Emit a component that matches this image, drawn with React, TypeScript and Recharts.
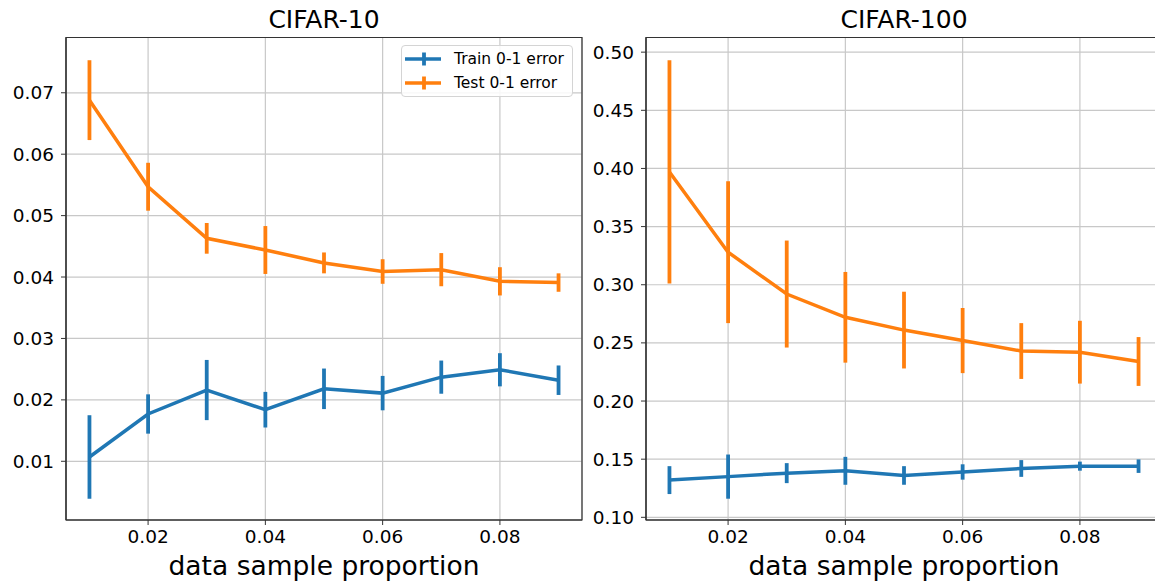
import {
  LineChart,
  Line,
  XAxis,
  YAxis,
  CartesianGrid,
  ErrorBar,
  ReferenceArea,
} from 'recharts';

const proportions = [0.01, 0.02, 0.03, 0.04, 0.05, 0.06, 0.07, 0.08, 0.09];
const xTicks = [0.02, 0.04, 0.06, 0.08];

// CIFAR-10
const c10Train = [0.0107, 0.0177, 0.0216, 0.0184, 0.0218, 0.0211, 0.0237, 0.0249, 0.0232];
const c10TrainErr = [0.0068, 0.0032, 0.0049, 0.0029, 0.0033, 0.0028, 0.0027, 0.0027, 0.0024];
const c10Test = [0.0688, 0.0547, 0.0463, 0.0444, 0.0423, 0.0409, 0.0412, 0.0393, 0.0391];
const c10TestErr = [0.0065, 0.0039, 0.0025, 0.0039, 0.0017, 0.002, 0.0027, 0.0023, 0.0015];
const c10Ticks = [0.01, 0.02, 0.03, 0.04, 0.05, 0.06, 0.07];

// CIFAR-100
const c100Train = [0.132, 0.135, 0.138, 0.14, 0.136, 0.139, 0.142, 0.144, 0.144];
const c100TrainErr = [0.012, 0.019, 0.0086, 0.012, 0.008, 0.0066, 0.0072, 0.0039, 0.0058];
const c100Test = [0.397, 0.328, 0.292, 0.272, 0.261, 0.252, 0.243, 0.242, 0.234];
const c100TestErr = [0.096, 0.061, 0.046, 0.039, 0.033, 0.028, 0.024, 0.027, 0.021];
const c100Ticks = [0.1, 0.15, 0.2, 0.25, 0.3, 0.35, 0.4, 0.45, 0.5];

const BLUE = '#1f77b4';
const ORANGE = '#ff7f0e';
const FONT = '"DejaVu Sans", sans-serif';
const X_DOMAIN: [number, number] = [0.006, 0.094];

function rows(train: number[], trainErr: number[], test: number[], testErr: number[]) {
  return proportions.map((p, i) => ({
    p,
    train: train[i],
    trainErr: trainErr[i],
    test: test[i],
    testErr: testErr[i],
  }));
}

function Panel({
  data,
  yDomain,
  yTicks,
}: {
  data: ReturnType<typeof rows>;
  yDomain: [number, number];
  yTicks: number[];
}) {
  const tick = { fill: '#000', fontSize: 18.5, fontFamily: FONT };
  return (
    <LineChart width={592} height={584} data={data} margin={{ top: 37.5, right: 10, bottom: 0, left: 0 }}>
      <CartesianGrid stroke="#c8c8c8" strokeWidth={1.2} />
      <XAxis
        dataKey="p"
        type="number"
        domain={X_DOMAIN}
        ticks={xTicks}
        interval={0}
        allowDataOverflow
        height={64}
        tick={tick}
        tickSize={5}
        tickMargin={5}
        tickLine={{ stroke: '#333' }}
        axisLine={{ stroke: '#333', strokeWidth: 1.2 }}
        tickFormatter={(v: number) => v.toFixed(2)}
      />
      <YAxis
        type="number"
        domain={yDomain}
        ticks={yTicks}
        interval={0}
        allowDataOverflow
        width={66}
        tick={tick}
        tickSize={5}
        tickMargin={7}
        tickLine={{ stroke: '#333' }}
        axisLine={{ stroke: '#333', strokeWidth: 1.2 }}
        tickFormatter={(v: number) => v.toFixed(2)}
      />
      <ReferenceArea
        x1={X_DOMAIN[0]}
        x2={X_DOMAIN[1]}
        y1={yDomain[0]}
        y2={yDomain[1]}
        fill="none"
        stroke="#333"
        strokeWidth={1.2}
      />
      <Line
        dataKey="train"
        stroke={BLUE}
        strokeWidth={3.5}
        dot={false}
        activeDot={false}
        isAnimationActive={false}
      >
        <ErrorBar dataKey="trainErr" direction="y" width={0} stroke={BLUE} strokeWidth={3.8} isAnimationActive={false} />
      </Line>
      <Line
        dataKey="test"
        stroke={ORANGE}
        strokeWidth={3.5}
        dot={false}
        activeDot={false}
        isAnimationActive={false}
      >
        <ErrorBar dataKey="testErr" direction="y" width={0} stroke={ORANGE} strokeWidth={3.8} isAnimationActive={false} />
      </Line>
    </LineChart>
  );
}

function LegendIcon({ color }: { color: string }) {
  return (
    <svg width={36} height={16} style={{ display: 'block' }}>
      <line x1={0} y1={8} x2={36} y2={8} stroke={color} strokeWidth={3.5} />
      <line x1={19} y1={1.5} x2={19} y2={14.5} stroke={color} strokeWidth={3.8} />
    </svg>
  );
}

const titleStyle = {
  position: 'absolute' as const,
  fontFamily: FONT,
  fontSize: 25,
  lineHeight: '25px',
  textAlign: 'center' as const,
  color: '#000',
  width: 516,
};

const xLabelStyle = {
  position: 'absolute' as const,
  fontFamily: FONT,
  fontSize: 26.5,
  lineHeight: '26px',
  textAlign: 'center' as const,
  color: '#000',
  width: 516,
};

export default function App() {
  const left = rows(c10Train, c10TrainErr, c10Test, c10TestErr);
  const right = rows(c100Train, c100TrainErr, c100Test, c100TestErr);

  return (
    <div
      style={{
        position: 'absolute',
        left: 0,
        top: 0,
        width: 1155,
        height: 584,
        overflow: 'hidden',
        background: '#fff',
      }}
    >
      <div style={{ position: 'absolute', left: 0, top: 0 }}>
        <Panel data={left} yDomain={[0.00044, 0.079]} yTicks={c10Ticks} />
      </div>
      <div style={{ position: 'absolute', left: 580, top: 0 }}>
        <Panel data={right} yDomain={[0.0977, 0.5126]} yTicks={c100Ticks} />
      </div>

      <div style={{ ...titleStyle, left: 66, top: 7 }}>CIFAR-10</div>
      <div style={{ ...titleStyle, left: 646, top: 7 }}>CIFAR-100</div>
      <div style={{ ...xLabelStyle, left: 66, top: 553 }}>data sample proportion</div>
      <div style={{ ...xLabelStyle, left: 646, top: 553 }}>data sample proportion</div>

      <div
        style={{
          position: 'absolute',
          left: 401,
          top: 45,
          width: 170,
          height: 50,
          border: '1px solid #d4d4d4',
          borderRadius: 4,
          background: 'rgba(255,255,255,0.85)',
          fontFamily: FONT,
          fontSize: 15.5,
          color: '#000',
        }}
      >
        {[
          { label: 'Train 0-1 error', color: BLUE, top: 5 },
          { label: 'Test 0-1 error', color: ORANGE, top: 28.5 },
        ].map((e) => (
          <div
            key={e.label}
            style={{ position: 'absolute', left: 3, top: e.top, display: 'flex', alignItems: 'center', height: 16 }}
          >
            <LegendIcon color={e.color} />
            <span style={{ marginLeft: 13, whiteSpace: 'nowrap' }}>{e.label}</span>
          </div>
        ))}
      </div>
    </div>
  );
}
